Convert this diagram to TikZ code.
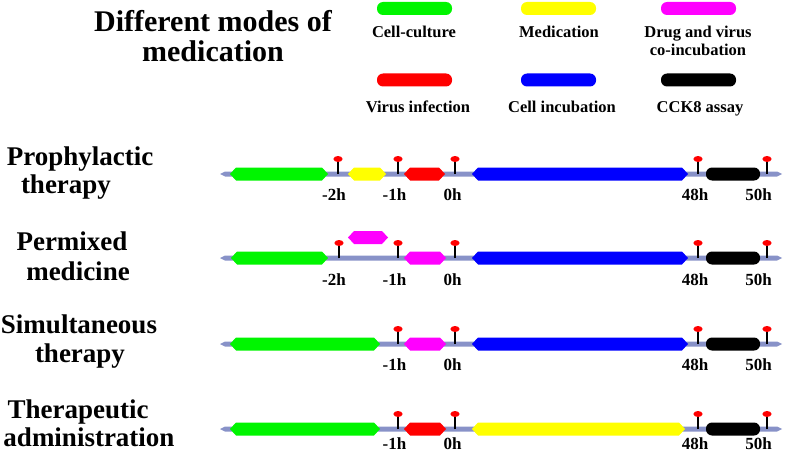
\documentclass[tikz,border=0pt]{standalone}
\usepackage{fontspec}
\setmainfont{Liberation Serif}
\definecolor{axiscol}{RGB}{136,146,200}
\definecolor{cgreen}{RGB}{0,245,0}
\definecolor{cyellow}{RGB}{255,255,0}
\definecolor{cmag}{RGB}{255,0,255}
\definecolor{cred}{RGB}{255,0,0}
\definecolor{cblue}{RGB}{0,0,255}
\newcommand{\hexbar}[4]{\fill[#4] (#1,#3) -- (#1+6,#3-6.5) -- (#2-6,#3-6.5) -- (#2,#3) -- (#2-6,#3+6.5) -- (#1+6,#3+6.5) -- cycle;}
\newcommand{\rndbar}[4]{\fill[#4, rounded corners=6pt] (#1,#3-6.5) rectangle (#2,#3+6.5);}
\newcommand{\pinat}[2]{\draw[line width=2.8pt,black] (#1,#2) -- (#1,#2-14); \fill[cred] (#1,#2-15) ellipse [x radius=4.6pt, y radius=3pt];}
\newcommand{\axisline}[1]{\fill[axiscol] (220,#1) -- (225,#1-2.5) -- (777,#1-2.5) -- (782,#1) -- (777,#1+2.5) -- (225,#1+2.5) -- cycle;}
\tikzset{
  titletext/.style={font=\fontsize{30}{30}\selectfont\bfseries, anchor=base, inner sep=0pt},
  rowtext/.style={font=\fontsize{27}{27}\selectfont\bfseries, anchor=base, inner sep=0pt},
  legtext/.style={font=\fontsize{16.5}{16.5}\selectfont\bfseries, anchor=base, inner sep=0pt},
  ticktext/.style={font=\fontsize{17}{17}\selectfont\bfseries, anchor=base, inner sep=0pt},
}
\begin{document}
\begin{tikzpicture}[x=1pt,y=-1pt]
\useasboundingbox (0,0) rectangle (785,452);
% title
\node[titletext] (t1) at (213,32) {Different modes of};
\node[titletext] (t2) at (213,62) {medication};
% legend
\rndbar{377}{452}{8.5}{cgreen}
\rndbar{521}{596}{8.5}{cyellow}
\rndbar{661}{736}{8.5}{cmag}
\rndbar{377}{452}{80}{cred}
\rndbar{521}{596}{80}{cblue}
\rndbar{661}{736}{80}{black}
\node[legtext] (l1) at (414,38) {Cell-culture};
\node[legtext] (l2) at (559,38) {Medication};
\node[legtext] (l3) at (698,38) {Drug and virus};
\node[legtext] (l3b) at (698,56) {co-incubation};
\node[legtext] (l4) at (418,112) {Virus infection};
\node[legtext] (l5) at (562,112) {Cell incubation};
\node[legtext] (l6) at (700,112) {CCK8 assay};
% row labels
\node[rowtext] (r1a) at (80,165) {Prophylactic};
\node[rowtext] (r1b) at (66,193) {therapy};
\node[rowtext] (r2a) at (72,250) {Permixed};
\node[rowtext] (r2b) at (78,280) {medicine};
\node[rowtext] (r3a) at (79,333) {Simultaneous};
\node[rowtext] (r3b) at (80,362) {therapy};
\node[rowtext] (r4a) at (78,418) {Therapeutic};
\node[rowtext] (r4b) at (89,446) {administration};
% row 1
\axisline{174}
\hexbar{230}{328}{174}{cgreen}
\hexbar{348}{386}{174}{cyellow}
\hexbar{404}{445}{174}{cred}
\hexbar{472}{688}{174}{cblue}
\rndbar{706}{760}{174}{black}
\pinat{338}{174}\pinat{398}{174}\pinat{455}{174}\pinat{698}{174}\pinat{767}{174}
\node[ticktext] (a1) at (334,200) {-2h};
\node[ticktext] (a2) at (394.5,200) {-1h};
\node[ticktext] (a3) at (452.5,200) {0h};
\node[ticktext] (a4) at (695,200) {48h};
\node[ticktext] (a5) at (758.5,200) {50h};
% row 2
\axisline{258}
\hexbar{231}{328}{258}{cgreen}
\hexbar{348}{388}{237.5}{cmag}
\hexbar{404}{446}{258}{cmag}
\hexbar{472}{688}{258}{cblue}
\rndbar{706}{760}{258}{black}
\pinat{339}{258}\pinat{398}{258}\pinat{455}{258}\pinat{698}{258}\pinat{767}{258}
\node[ticktext] (b1) at (334,285) {-2h};
\node[ticktext] (b2) at (394.5,285) {-1h};
\node[ticktext] (b3) at (452.5,285) {0h};
\node[ticktext] (b4) at (695,285) {48h};
\node[ticktext] (b5) at (758.5,285) {50h};
% row 3
\axisline{344}
\hexbar{230}{380}{344}{cgreen}
\hexbar{404}{446}{344}{cmag}
\hexbar{472}{688}{344}{cblue}
\rndbar{706}{760}{344}{black}
\pinat{398}{344}\pinat{455}{344}\pinat{698}{344}\pinat{767}{344}
\node[ticktext] (c2) at (394.5,370) {-1h};
\node[ticktext] (c3) at (452.5,370) {0h};
\node[ticktext] (c4) at (695,370) {48h};
\node[ticktext] (c5) at (758.5,370) {50h};
% row 4
\axisline{429}
\hexbar{230}{380}{429}{cgreen}
\hexbar{404}{446}{429}{cred}
\hexbar{472}{685}{429}{cyellow}
\rndbar{706}{760}{429}{black}
\pinat{398}{429}\pinat{455}{429}\pinat{698}{429}\pinat{767}{429}
\node[ticktext] (d2) at (394.5,449) {-1h};
\node[ticktext] (d3) at (452.5,449) {0h};
\node[ticktext] (d4) at (695,449) {48h};
\node[ticktext] (d5) at (758.5,449) {50h};
\end{tikzpicture}
\end{document}
